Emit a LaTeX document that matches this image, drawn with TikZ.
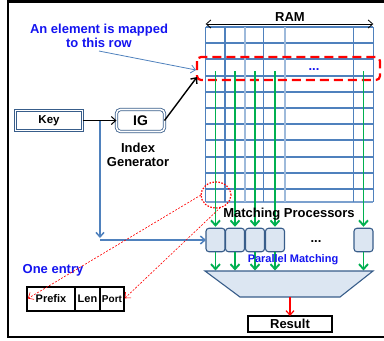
\documentclass[tikz,border=0pt]{standalone}
\usepackage{fontspec}
\setmainfont{Liberation Sans}
\usetikzlibrary{arrows.meta,positioning,shapes.geometric}

\definecolor{gridblue}{RGB}{79,129,189}
\definecolor{darkblue}{RGB}{56,93,138}
\definecolor{procfill}{RGB}{220,230,242}
\definecolor{matchgreen}{RGB}{0,176,80}
\definecolor{textblue}{RGB}{20,20,240}

\begin{document}
\begin{tikzpicture}[
    x=1pt, y=-1pt,
    >={Straight Barb[length=4.5pt,width=8pt]},
    every node/.style={inner sep=0pt, outer sep=0pt},
    lbl/.style={font=\fontsize{13}{14.5}\selectfont\bfseries},
    smalllbl/.style={font=\fontsize{11}{13}\selectfont\bfseries},
    keybox/.style={draw=darkblue, double=white, double distance=1.6pt,
      line width=0.8pt, minimum width=67pt, minimum height=20pt},
    igbox/.style={keybox, rounded corners=4pt, minimum width=48pt,
      minimum height=22pt, font=\fontsize{14}{16}\selectfont\bfseries},
    proc/.style={draw=darkblue, fill=procfill, line width=1.1pt,
      rounded corners=3pt, minimum width=19pt, minimum height=23.5pt},
    entry/.style={draw, line width=1.2pt, minimum height=24pt, smalllbl},
    greenarrow/.style={-{Straight Barb[length=5pt,width=9pt]}, matchgreen, line width=1.9pt},
    feed/.style={->, gridblue, line width=1.5pt},
    pointer/.style={->, red, line width=0.6pt, dash pattern=on 2pt off 1.5pt},
  ]
  \useasboundingbox (0,0) rectangle (384,341);

  % outer frame (right side runs off the page)
  \draw[line width=2.5pt] (392,1.5) -- (8,1.5) -- (8,337) -- (392,337);

  % ------------------------------------------------------------------
  % RAM array: rows and columns
  % ------------------------------------------------------------------
  \def\ramL{205.7}
  \def\ramR{373.3}
  \def\ramT{27}
  \def\ramB{202}
  \foreach \yy in {0,...,10} {
    \draw[gridblue, line width=2pt] (\ramL,\ramT+16.2*\yy) -- (\ramR,\ramT+16.2*\yy);
  }
  \draw[gridblue!75, line width=1.5pt] (\ramL,\ramB) -- (\ramR,\ramB);
  \foreach \xx in {205.7,225,263.3,353.3,373.3} {
    \draw[gridblue, line width=1.2pt] (\xx,\ramT) -- (\xx,\ramB);
  }
  \foreach \xx in {245,285} {
    \draw[gridblue!55, line width=1.2pt] (\xx,\ramT) -- (\xx,\ramB);
  }

  % width arrow + label
  \coordinate (ramleft) at (\ramL,24);
  \coordinate (ramright) at (\ramR,24);
  \draw[<->, line width=0.8pt] (ramleft) -- (ramright);
  \node[lbl] (ramlabel) at (290,17) {RAM};

  % the mapped row
  \draw[red, line width=2.2pt, dash pattern=on 9pt off 5pt, rounded corners=4pt]
       (197,57) rectangle (380,80);
  \node[lbl, text=textblue] (rowdots) at (314,70) {...};

  % ------------------------------------------------------------------
  % Matching processors and the merge stage
  % ------------------------------------------------------------------
  \foreach \n/\xc in {1/215.5,2/235,3/255,4/275,5/363.5} {
    \node[proc] (p\n) at (\xc,240) {};
  }
  \node[lbl] (procdots) at (316,242) {...};

  \coordinate (gstart) at (0,71);
  \coordinate (mtop) at (0,270.5);
  \foreach \n in {1,...,5} {
    \draw[greenarrow, shorten >=1.5pt] (p\n.north |- gstart) -- (p\n.north);
    \draw[greenarrow] (p\n.south) -- (p\n.south |- mtop);
  }

  \draw[darkblue, fill=procfill, line width=1.1pt]
       (205,271) -- (373,271) -- (340,297) -- (240,297) -- cycle;
  \coordinate (mergeout) at (290,297);

  \node[lbl] (mplabel) at (289,214) {Matching Processors};
  \node[smalllbl, text=textblue] (pmlabel) at (293,260) {Parallel Matching};

  \node[entry, lbl, minimum width=84pt, minimum height=16pt] (result) at (290,324) {Result};
  \draw[->, red, line width=1.2pt] (mergeout) -- (result.north);

  % ------------------------------------------------------------------
  % Key -> index generator -> row
  % ------------------------------------------------------------------
  \node[keybox, font=\fontsize{11.5}{13}\selectfont\bfseries] (key) at (49,120.5) {Key};
  \node[igbox] (ig) at (140.5,120.5) {IG};
  \node[lbl, align=center] (iglabel) at (138,155) {Index\\Generator};

  \draw[->, line width=1pt] (key) -- (ig);
  \coordinate (rowhit) at (197,77);
  \draw[->, line width=1.4pt] (ig.east) -- (rowhit);

  % key is also fed to all processors
  \coordinate (tap) at (100,121);
  \coordinate (corner) at (100,240);
  \draw[feed, shorten >=2pt] (tap) -- (corner);
  \draw[feed] (corner) -- (p1.west);

  % annotation for the mapped row
  \node[lbl, text=textblue, align=center] (note) at (99,36) {An element is mapped\\to this row};
  \coordinate (rowtag) at (196,70);
  \draw[->, gridblue, line width=0.8pt] ([yshift=-3pt]note.south) -- (rowtag);

  % ------------------------------------------------------------------
  % One entry of the RAM
  % ------------------------------------------------------------------
  \node[ellipse, draw=red, line width=1.2pt, dash pattern=on 1.5pt off 1.5pt,
        minimum width=30pt, minimum height=26pt] (cell) at (216,195) {};

  \node[lbl, text=textblue] (onelabel) at (53,270) {One entry};
  \node[entry, minimum width=48pt] (prefix) at (51,299) {Prefix};
  \node[entry, minimum width=25pt, right=0pt of prefix] (len) {Len};
  \node[entry, minimum width=24pt, right=0pt of len,
        font=\fontsize{10}{12}\selectfont\bfseries] (port) {Port};

  \draw[pointer, shorten >=1pt] (cell.west) -- (prefix.west);
  \draw[pointer, shorten >=1pt] (cell.-70) -- (port.east);

\end{tikzpicture}
\end{document}
